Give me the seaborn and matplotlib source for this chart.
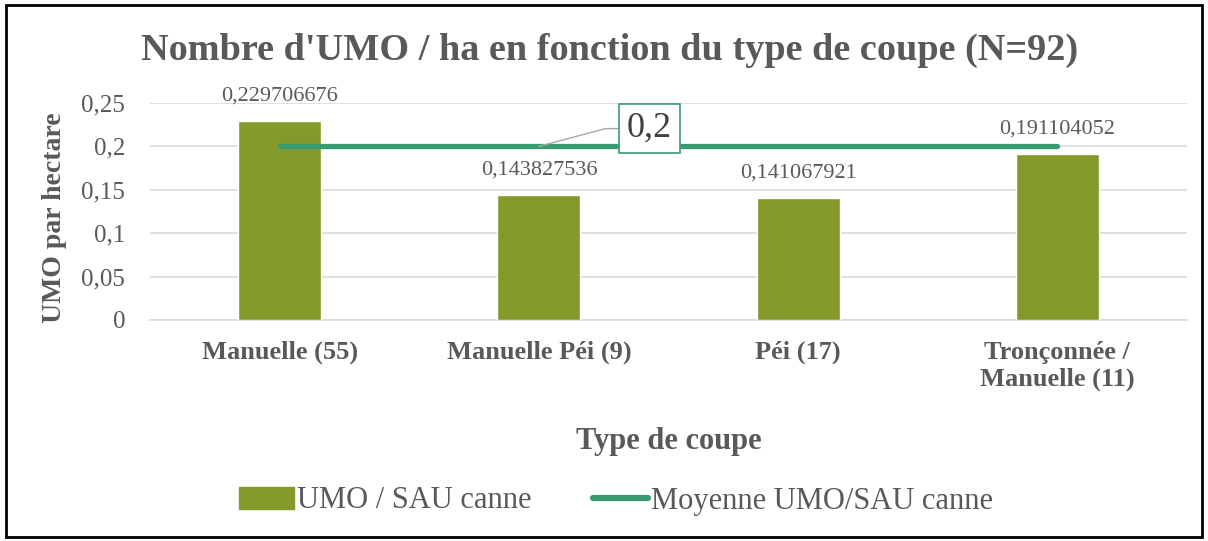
import matplotlib
matplotlib.use("Agg")
from matplotlib import pyplot as plt
from matplotlib.patches import Patch
from matplotlib.lines import Line2D
import seaborn as sns
import pandas as pd

categories = ["Manuelle (55)", "Manuelle Péi (9)", "Péi (17)", "Tronçonnée /\nManuelle (11)"]
umo_sau = [0.229706676, 0.143827536, 0.141067921, 0.191104052]
moyenne = [0.2, 0.2, 0.2, 0.2]
yticks = [0, 0.05, 0.1, 0.15, 0.2, 0.25]

bar_color = "#83992A"
line_color = "#3A9A72"
grey = "#595959"
grid = "#D9D9D9"

df = pd.DataFrame({"type": categories, "umo": umo_sau, "moy": moyenne})

sns.set_theme(style="white")
plt.rcParams["font.family"] = ["Liberation Serif", "DejaVu Serif"]

W, H = 1208, 541
fig = plt.figure(figsize=(W / 100, H / 100), dpi=100)
ax = fig.add_axes([150 / W, 1 - 320 / H, (1187 - 150) / W, 217 / H])

sns.barplot(data=df, x="type", y="umo", color=bar_color, width=0.32,
            saturation=1, ax=ax, zorder=3)
ax.plot(range(len(categories)), df["moy"], color=line_color, lw=3.8,
        solid_capstyle="round", zorder=4)

for i, v in enumerate(umo_sau):
    ax.annotate(f"{v:.9f}".replace(".", ","), (i, v), xytext=(0, 11),
                textcoords="offset points", ha="center", va="bottom",
                fontsize=16, color=grey, zorder=5)

# étiquette de la moyenne
ax.annotate("0,2", xy=(1, 0.2), xytext=(1.425, 0.2205),
            ha="center", va="center", fontsize=26, color="#404040",
            bbox=dict(boxstyle="square,pad=0.22", fc="white", ec=line_color, lw=1.2),
            arrowprops=dict(arrowstyle="-", color="#A6A6A6", lw=1,
                            connectionstyle="angle,angleA=0,angleB=15,rad=0",
                            shrinkA=0, shrinkB=0),
            zorder=6)

ax.set_ylim(0, 0.25)
ax.set_xlim(-0.5, 3.5)
ax.set_yticks(yticks)
ax.set_yticklabels([str(t).replace(".", ",") if t else "0" for t in yticks],
                   fontsize=18, color=grey)
ax.tick_params(axis="y", length=0, pad=18)
ax.tick_params(axis="x", length=0, pad=15)
for lab in ax.get_xticklabels():
    lab.set_fontsize(19)
    lab.set_fontweight("bold")
    lab.set_color(grey)
ax.yaxis.grid(True, color=grid, lw=1.2, zorder=0)
for s in ["top", "right", "left"]:
    ax.spines[s].set_visible(False)
ax.spines["bottom"].set_color(grid)
ax.spines["bottom"].set_linewidth(1.2)

ax.set_xlabel("Type de coupe", fontsize=22, fontweight="bold", color=grey)
ax.xaxis.set_label_coords(0.5, -0.493)
ax.set_ylabel("")
fig.text(55 / W, 1 - 218 / H, "UMO par hectare", rotation=90, ha="center", va="center",
         fontsize=20, fontweight="bold", color=grey)
fig.text(610 / W, 1 - 50 / H, "Nombre d'UMO / ha en fonction du type de coupe (N=92)",
         ha="center", va="center", fontsize=27.5, fontweight="bold", color=grey)

handles = [Patch(color=bar_color, label="UMO / SAU canne"),
           Line2D([0], [0], color=line_color, lw=4.5, solid_capstyle="round",
                  label="Moyenne UMO/SAU canne")]
leg = fig.legend(handles=handles, loc="center", bbox_to_anchor=(616 / W, 1 - 501 / H),
                 ncol=2, frameon=False, fontsize=22, handlelength=1.8, handleheight=0.75,
                 handletextpad=0.1, columnspacing=2.0)
for t in leg.get_texts():
    t.set_color(grey)

fig.patches.append(plt.Rectangle((6 / W, 4 / H), 1196 / W, 532 / H,
                                 transform=fig.transFigure, fill=False,
                                 ec="black", lw=2))

fig.savefig("out.png", dpi=100)
